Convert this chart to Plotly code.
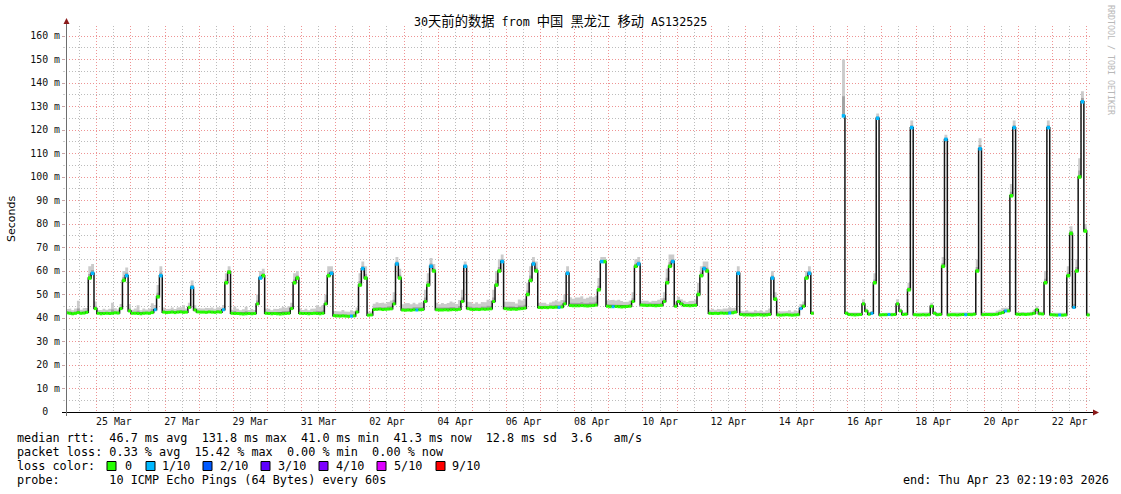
import pandas as pd
import plotly.graph_objects as go

# ---------------------------------------------------------------- data
start_sample = "2026-03-24 02:00:00"   # first consolidated sample (2 h steps)
step_hours = 2
window_start = "2026-03-24 02:19:03"
window_end = "2026-04-23 02:19:03"

# median rtt (ms), one row per day, 12 two-hour samples per row
median_ms = [
    42.2, 42.0, 41.8, 42.0, 42.3, 42.0, 42.1, 42.4, 57, 59, 44, 42.0,          # Mar 24
    41.8, 41.9, 42.0, 41.9, 42.0, 42.2, 42.1, 44, 56, 58, 43, 42.0,            # Mar 25
    42.0, 41.9, 41.8, 42.0, 42.1, 42.0, 42.3, 43.5, 49, 58, 42.5, 42.3,        # Mar 26
    42.4, 42.5, 42.3, 42.5, 42.6, 42.4, 42.5, 44.5, 53, 43.4, 42.6, 42.5,      # Mar 27
    42.5, 42.4, 42.6, 42.5, 42.4, 42.6, 42.5, 43.5, 55, 59.5, 42.0, 41.9,      # Mar 28
    41.9, 41.8, 41.7, 41.8, 41.9, 41.8, 41.9, 46, 57, 58, 42.0, 41.9,          # Mar 29
    41.8, 41.9, 41.8, 41.7, 41.8, 41.9, 42.0, 44, 55, 57, 42.0, 41.9,          # Mar 30
    41.9, 41.8, 41.9, 42.0, 41.9, 41.8, 42.0, 46, 58, 59, 41.0, 40.9,          # Mar 31
    40.8, 40.9, 40.8, 40.7, 40.8, 40.9, 42.5, 54, 61, 57, 41.2, 41.3,          # Apr 01
    43.6, 43.7, 43.8, 43.6, 43.7, 43.8, 43.9, 46, 63, 57, 43.4, 43.3,          # Apr 02
    43.4, 43.3, 43.5, 43.4, 43.5, 43.6, 47, 54, 62, 60, 43.5, 43.4,            # Apr 03
    43.4, 43.5, 43.4, 43.5, 43.6, 43.5, 43.7, 47, 62, 44, 43.7, 43.6,          # Apr 04
    43.7, 43.6, 43.8, 43.7, 43.8, 43.9, 47, 54, 60, 64, 44.0, 43.8,            # Apr 05
    43.7, 43.8, 43.7, 43.9, 44.0, 44.2, 50, 56, 63, 60, 44.5, 44.4,            # Apr 06
    44.5, 44.4, 44.6, 44.5, 44.6, 44.5, 44.7, 46, 59, 45.3, 45.2, 45.2,        # Apr 07
    45.2, 45.3, 45.2, 45.1, 45.2, 45.3, 45.5, 52, 64, 64, 45.0, 44.8,          # Apr 08
    44.8, 44.9, 44.8, 44.7, 44.8, 44.9, 45.0, 47, 62, 63, 45.5, 45.4,          # Apr 09
    45.3, 45.4, 45.3, 45.2, 45.3, 45.4, 47, 55, 62, 64, 45.0, 47,              # Apr 10
    46, 45.3, 45.3, 45.2, 45.3, 45.4, 50, 58, 61, 60, 42.0, 41.9,              # Apr 11
    42.0, 41.9, 42.1, 42.0, 42.0, 42.1, 42.2, 42.5, 59, 41.5, 41.3, 41.3,      # Apr 12
    41.3, 41.2, 41.3, 41.4, 41.3, 41.2, 41.3, 41.5, 57, 48, 41.3, 41.2,        # Apr 13
    41.3, 41.4, 41.3, 41.2, 41.3, 41.4, 44, 45, 57, 59, 42.0, None,            # Apr 14
    None, None, None, None, None, None, None, None, None, 126, 42.0, 41.5,     # Apr 15
    41.4, 41.3, 41.4, 41.5, 46, 43, 41.6, 42, 55, 125, 41.3, 41.4,             # Apr 16
    41.4, 41.5, 41.4, 41.5, 46, 43, 41.5, 41.6, 52, 121, 41.4, 41.3,           # Apr 17
    41.3, 41.4, 41.3, 41.4, 45, 42, 41.4, 41.5, 62, 116, 41.3, 41.4,           # Apr 18
    41.4, 41.3, 41.4, 41.5, 41.4, 41.5, 41.4, 41.6, 60, 112, 41.4, 41.5,       # Apr 19
    41.5, 41.4, 41.5, 41.6, 42.0, 42.3, 43, 43, 92, 121, 41.6, 41.5,           # Apr 20
    41.6, 41.5, 41.6, 41.7, 42.0, 43.5, 41.8, 41.7, 55, 121, 41.4, 41.3,       # Apr 21
    41.2, 41.3, 41.2, 41.3, 58, 76, 44.5, 60, 100, 132, 77, 41.3,              # Apr 22
]

# spread of the individual pings above the median ("smoke"), ms
smoke_spread_ms = [
    1.5, 2, 1.5, 2, 5, 1.5, 2, 2, 5, 4, 3, 1.5,
    1.5, 2, 1.5, 2, 4.5, 2, 1.5, 2, 4, 3.5, 3, 1.5,
    2, 3.5, 1.5, 2, 1.5, 2, 4, 2, 5, 4, 2, 1.5,
    1.5, 2, 1.5, 2, 2, 3, 1.5, 2, 3, 2, 1.5, 1.5,
    1.5, 2, 1.5, 2, 1.5, 2, 2, 2, 4, 2.5, 1.5, 3,
    2, 1.5, 2, 3, 1.5, 2, 1.5, 4, 3, 3, 2, 2,
    1.5, 2, 2, 2.5, 3, 2.5, 3, 2.5, 4, 3, 2, 1.5,
    2, 1.5, 2, 2, 3.5, 3, 3.5, 4, 4, 3, 2, 2,
    2, 2.5, 2, 2, 2.5, 2, 2, 5, 3, 5, 1.5, 1.5,
    2.5, 3, 2.5, 3, 2.5, 3, 3.5, 5, 3, 4, 2.5, 3,
    3, 2.5, 3, 2.5, 3, 3, 5, 5, 3.5, 3, 3, 2.5,
    3, 2.5, 3, 3.5, 3, 2.5, 4, 5, 2, 3, 3, 2.5,
    3, 2.5, 3, 3, 4, 3.5, 5, 6, 5, 3, 3, 3,
    3, 3, 2.5, 4, 3.5, 4, 5, 6, 3, 4, 2, 2,
    2, 1.5, 2, 2.5, 3, 2.5, 3, 4, 3, 3.5, 3, 3.5,
    3.5, 4, 3, 3.5, 4, 3.5, 4, 5, 2, 2, 2.5, 3,
    3, 2.5, 3, 2.5, 2, 2, 2.5, 4, 3, 3, 2, 2,
    2, 1.5, 2, 2, 2.5, 3, 4, 6, 5, 3, 2, 2,
    2, 2, 1.5, 2, 2, 2.5, 5, 4, 3, 4, 1.5, 2,
    1.5, 2, 1.5, 2, 2, 2.5, 2, 2, 3, 1.5, 1.5, 2,
    1.5, 1.5, 2, 1.5, 2, 1.5, 2, 2.5, 3, 3, 1.5, 1.5,
    1.5, 1.5, 2, 1.5, 2, 1.5, 2, 2, 3, 3, 1, None,
    None, None, None, None, None, None, None, None, None, 24, 1, 0.8,
    0.8, 1, 0.8, 1, 2, 1, 0.8, 1, 4, 2, 0.8, 1,
    1, 0.8, 1, 0.8, 2, 1, 0.8, 1, 3, 3, 0.8, 1,
    0.8, 1, 0.8, 1, 1.5, 1, 0.8, 1, 4, 2, 1, 0.8,
    1, 0.8, 1, 0.8, 1, 0.8, 1, 1, 5, 4.5, 1, 0.8,
    1, 0.8, 1, 1.5, 1.5, 2, 1.5, 1.5, 5, 3, 1, 0.8,
    0.8, 1, 0.8, 1, 1.5, 1.5, 1, 1, 5, 3, 0.8, 1,
    1, 0.8, 1, 1, 4, 3, 1.5, 5, 8, 4.5, 3, 1,
]

# packet loss per sample, in tenths of the 10 pings
loss_tenths = [
    0, 0, 0, 0, 0, 0, 0, 0, 0, 1, 0, 0,
    0, 0, 0, 0, 0, 0, 0, 0, 0, 1, 0, 0,
    0, 0, 0, 0, 0, 0, 0, 1, 0, 1, 0, 0,
    0, 0, 0, 0, 0, 0, 0, 0, 1, 0, 0, 0,
    0, 0, 0, 0, 0, 0, 0, 1, 0, 0, 0, 0,
    0, 0, 0, 0, 0, 0, 0, 0, 1, 0, 0, 0,
    0, 0, 0, 0, 0, 0, 0, 0, 0, 0, 0, 0,
    0, 0, 0, 0, 0, 0, 0, 0, 0, 1, 0, 0,
    0, 0, 0, 0, 1, 0, 0, 0, 1, 0, 0, 0,
    0, 0, 0, 0, 0, 0, 0, 0, 1, 0, 0, 0,
    0, 0, 0, 1, 0, 0, 0, 0, 1, 0, 0, 0,
    0, 0, 0, 0, 0, 0, 0, 0, 1, 0, 0, 0,
    0, 0, 0, 0, 0, 0, 0, 0, 0, 1, 0, 0,
    0, 0, 0, 0, 0, 0, 0, 0, 1, 0, 0, 0,
    0, 0, 0, 0, 0, 1, 0, 0, 1, 0, 0, 0,
    0, 0, 0, 0, 0, 0, 0, 0, 1, 0, 0, 0,
    1, 0, 0, 0, 0, 0, 0, 0, 0, 1, 0, 0,
    0, 0, 0, 0, 0, 0, 0, 0, 0, 1, 0, 0,
    0, 0, 0, 0, 0, 0, 0, 0, 1, 0, 0, 0,
    0, 0, 0, 0, 0, 1, 0, 0, 1, 0, 0, 0,
    0, 0, 0, 0, 0, 0, 0, 0, 1, 0, 0, 0,
    0, 0, 0, 0, 0, 0, 1, 0, 0, 1, 0, 0,
    0, 0, 0, 0, 0, 0, 0, 0, 0, 1, 0, 0,
    0, 0, 0, 0, 0, 0, 0, 1, 0, 1, 0, 0,
    0, 1, 0, 0, 0, 0, 0, 0, 0, 1, 0, 0,
    0, 0, 0, 0, 0, 0, 0, 0, 0, 1, 0, 0,
    0, 0, 0, 0, 1, 0, 0, 0, 0, 1, 0, 0,
    0, 0, 0, 0, 0, 0, 1, 0, 0, 1, 0, 0,
    0, 0, 0, 0, 0, 0, 0, 0, 0, 1, 0, 0,
    0, 1, 0, 0, 0, 0, 1, 0, 0, 1, 0, 0,
]

y_tick_values = [0, 10, 20, 30, 40, 50, 60, 70, 80, 90, 100, 110, 120, 130, 140, 150, 160]
y_tick_labels = ["0\u00a0\u00a0", "10 m", "20 m", "30 m", "40 m", "50 m", "60 m", "70 m",
                 "80 m", "90 m", "100 m", "110 m", "120 m", "130 m", "140 m", "150 m", "160 m"]
x_label_days = ["2026-03-25", "2026-03-27", "2026-03-29", "2026-03-31", "2026-04-02",
                "2026-04-04", "2026-04-06", "2026-04-08", "2026-04-10", "2026-04-12",
                "2026-04-14", "2026-04-16", "2026-04-18", "2026-04-20", "2026-04-22"]
x_label_texts = ["25 Mar", "27 Mar", "29 Mar", "31 Mar", "02 Apr", "04 Apr", "06 Apr", "08 Apr",
                 "10 Apr", "12 Apr", "14 Apr", "16 Apr", "18 Apr", "20 Apr", "22 Apr"]

title_html = ("30<span style='font-size:13.3px'>天前的数据</span> from "
              "<span style='font-size:13.3px'>中国</span> <span style='font-size:13.3px'>黑龙江</span> "
              "<span style='font-size:13.3px'>移动</span> AS132525")
stats_line_1 = "median rtt:  46.7 ms avg  131.8 ms max  41.0 ms min  41.3 ms now  12.8 ms sd  3.6   am/s"
stats_line_2 = "packet loss: 0.33 % avg  15.42 % max  0.00 % min  0.00 % now"
loss_label = "loss color:"
loss_legend_labels = ["0", "1/10", "2/10", "3/10", "4/10", "5/10", "9/10"]
loss_legend_tenths = [0, 1, 2, 3, 4, 5, 9]
probe_text = "probe:       10 ICMP Echo Pings (64 Bytes) every 60s"
end_text = "end: Thu Apr 23 02:19:03 2026"
watermark = "RRDTOOL / TOBI OETIKER"

# ---------------------------------------------------------------- style
MONO = "DejaVu Sans Mono, Noto Sans CJK SC, monospace"
SANS = "DejaVu Sans, sans-serif"
LOSS_COLORS = {0: "#26ff00", 1: "#00b8ff", 2: "#0059ff", 3: "#5e00ff",
               4: "#7e00ff", 5: "#dd00ff", 9: "#ff0000"}
RED_GRID = "#ee9494"
GRAY_GRID = "#bcbcbc"
GRID_DASH = "1px,2px"
W, H = 1121, 494
L, R, T, B = 66, 1090, 26, 412


def px(x):
    return (x - L) / (R - L)


def py(y):
    return (B - y) / (B - T)


# ---------------------------------------------------------------- marks
t0 = pd.Timestamp(start_sample)
step = pd.Timedelta(hours=step_hours)
n = len(median_ms)
times = [t0 + step * i for i in range(n)]

segments, cur = [], []
for i, v in enumerate(median_ms):
    if v is None:
        if cur:
            segments.append(cur)
            cur = []
    else:
        cur.append(i)
if cur:
    segments.append(cur)

fig = go.Figure()


def smoke_band(frac, color):
    for seg in segments:
        xs, ys = [], []
        for i in seg:
            top = median_ms[i] + smoke_spread_ms[i] * frac
            xs += [times[i], times[i] + step]
            ys += [top, top]
        for i in reversed(seg):
            xs += [times[i] + step, times[i]]
            ys += [median_ms[i], median_ms[i]]
        fig.add_trace(go.Scatter(x=xs, y=ys, mode="lines", fill="toself", fillcolor=color,
                                 line=dict(width=0), hoverinfo="skip", showlegend=False))


smoke_band(1.0, "#cbcbcb")
smoke_band(0.35, "#a2a2a2")

# median line (black steps)
mx, my = [], []
for seg in segments:
    for i in seg:
        mx += [times[i], times[i] + step]
        my += [median_ms[i], median_ms[i]]
    mx.append(None)
    my.append(None)
fig.add_trace(go.Scatter(x=mx, y=my, mode="lines", line=dict(color="#151515", width=1.5),
                         hoverinfo="skip", showlegend=False))

# loss-coloured median: thick where flat near baseline, dots on spikes
flat_xy, dot_xy = {}, {}
for i, v in enumerate(median_ms):
    if v is None:
        continue
    near = [median_ms[k] for k in range(max(0, i - 6), min(n, i + 7)) if median_ms[k] is not None]
    c = LOSS_COLORS[loss_tenths[i]]
    if v - min(near) <= 6:
        fx, fy = flat_xy.setdefault(c, ([], []))
        fx += [times[i], times[i] + step, None]
        fy += [v, v, None]
    else:
        dx, dy = dot_xy.setdefault(c, ([], []))
        dx.append(times[i] + step / 2)
        dy.append(v)
for c, (fx, fy) in flat_xy.items():
    fig.add_trace(go.Scatter(x=fx, y=fy, mode="lines", line=dict(color=c, width=3),
                             hoverinfo="skip", showlegend=False))
for c, (dx, dy) in dot_xy.items():
    fig.add_trace(go.Scatter(x=dx, y=dy, mode="markers",
                             marker=dict(color=c, size=3.5, symbol="square", line=dict(width=0)),
                             hoverinfo="skip", showlegend=False))

# dummy trace so the label axis is drawn
fig.add_trace(go.Scatter(x=[window_start], y=[None], xaxis="x2", mode="markers",
                         hoverinfo="skip", showlegend=False))

midnights = [d.strftime("%Y-%m-%d %H:%M:%S") for d in pd.date_range("2026-03-25", "2026-04-23", freq="D")]
noons = [d.strftime("%Y-%m-%d %H:%M:%S") for d in pd.date_range("2026-03-24 12:00", "2026-04-22 12:00", freq="D")]
label_pos = [(pd.Timestamp(d) + pd.Timedelta(hours=12)).strftime("%Y-%m-%d %H:%M:%S") for d in x_label_days]

fig.update_layout(
    width=W, height=H,
    margin=dict(l=L, r=W - R, t=T, b=H - B, pad=0),
    paper_bgcolor="white", plot_bgcolor="white", showlegend=False,
    xaxis=dict(type="date", range=[window_start, window_end], tickmode="array", tickvals=midnights,
               showticklabels=False, showgrid=True, gridcolor=RED_GRID, gridwidth=1, griddash=GRID_DASH,
               ticks="", zeroline=False, showline=False,
               minor=dict(tickmode="array", tickvals=noons, showgrid=True, gridcolor=GRAY_GRID,
                          gridwidth=1, griddash=GRID_DASH, ticks="")),
    xaxis2=dict(type="date", range=[window_start, window_end], overlaying="x", anchor="y", side="bottom",
                tickmode="array", tickvals=label_pos, ticktext=x_label_texts, showgrid=False,
                ticks="", zeroline=False, showline=False, ticklabelstandoff=2,
                tickfont=dict(family=MONO, size=9.9, color="#111")),
    yaxis=dict(range=[0, (B - T) / 2.35], tickmode="array", tickvals=y_tick_values, ticktext=y_tick_labels,
               showgrid=True, gridcolor=RED_GRID, gridwidth=1, griddash=GRID_DASH,
               zeroline=False, showline=False, ticks="outside", ticklen=3, tickcolor="#c9a6a6",
               tickfont=dict(family=MONO, size=9.9, color="#111"),
               minor=dict(tickmode="linear", tick0=0, dtick=5, showgrid=True, gridcolor=GRAY_GRID,
                          gridwidth=1, griddash=GRID_DASH, ticks="outside", ticklen=2, tickcolor="#cccccc")),
)

shapes = [
    dict(type="line", xref="paper", yref="paper", x0=px(62), x1=px(1094), y0=py(412.5), y1=py(412.5),
         line=dict(color="#000000", width=1)),
    dict(type="line", xref="paper", yref="paper", x0=px(66.5), x1=px(66.5), y0=py(416), y1=py(22),
         line=dict(color="#6e6e6e", width=1)),
    dict(type="path", xref="paper", yref="paper", xsizemode="pixel", ysizemode="pixel",
         xanchor=px(1093), yanchor=py(412.5), path="M 0,3 L 6,0 L 0,-3 Z",
         fillcolor="#8b1a1a", line=dict(width=0)),
    dict(type="path", xref="paper", yref="paper", xsizemode="pixel", ysizemode="pixel",
         xanchor=px(66.5), yanchor=py(24), path="M -3,0 L 3,0 L 0,6 Z",
         fillcolor="#8b1a1a", line=dict(width=0)),
]
square_left = [107, 146, 203, 261, 319, 377, 436]
label_left = [123, 160, 218, 276, 334, 392, 450]
row_y = [438, 452, 466, 480]
for sx, t in zip(square_left, loss_legend_tenths):
    shapes.append(dict(type="rect", xref="paper", yref="paper", x0=px(sx), x1=px(sx + 9),
                       y0=py(row_y[2] + 4.5), y1=py(row_y[2] - 4.5),
                       fillcolor=LOSS_COLORS[t], line=dict(color="#000000", width=1)))
fig.update_layout(shapes=shapes)

ann = []


def text(x, y, s, size=11.8, family=MONO, color="#000", anchor="left", angle=0):
    ann.append(dict(x=px(x), y=py(y), xref="paper", yref="paper", text=s, showarrow=False,
                    xanchor=anchor, yanchor="middle", textangle=angle,
                    font=dict(family=family, size=size, color=color)))


text(560.5, 21, title_html, size=11.7, anchor="center")
text(15, row_y[0], stats_line_1)
text(15, row_y[1], stats_line_2)
text(15, row_y[2], loss_label)
for lx, lab in zip(label_left, loss_legend_labels):
    text(lx, row_y[2], lab)
text(15, row_y[3], probe_text)
text(901, row_y[3], end_text)
text(11, 219, "Seconds", size=11, family=SANS, anchor="center", angle=-90)
text(1111, 60, watermark, size=8.3, color="#b8b8b8", anchor="center", angle=90)
fig.update_layout(annotations=ann)

fig.write_html(
    "out.html",
    config={"displayModeBar": False},
    post_script="document.body.style.margin='0';document.body.style.padding='0';"
                "document.body.style.overflow='hidden';",
)
